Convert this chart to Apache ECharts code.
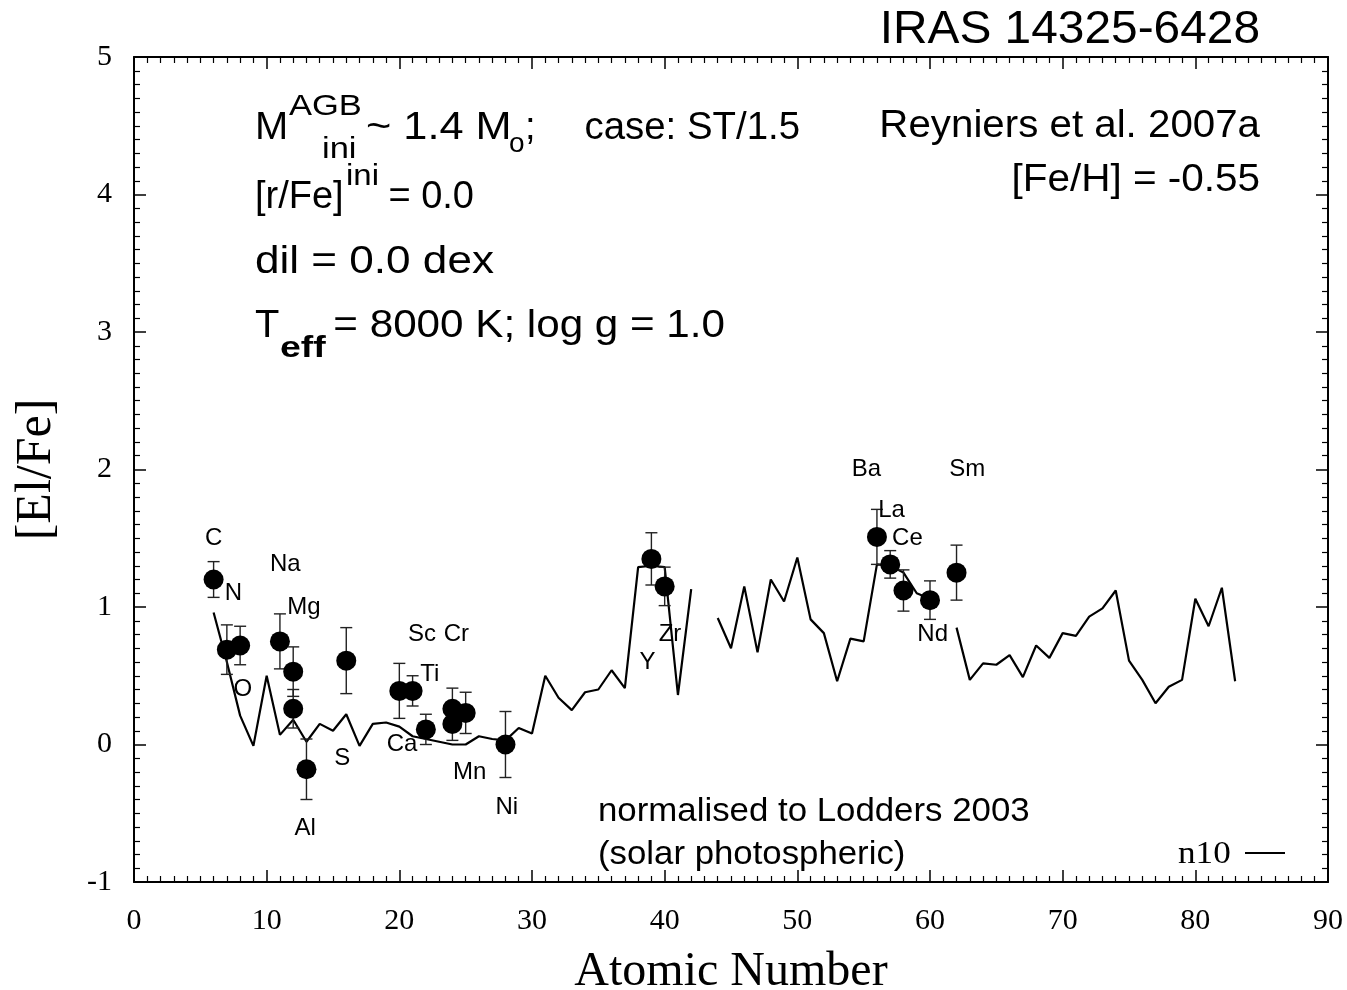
<!DOCTYPE html>
<html>
<head>
<meta charset="utf-8">
<title>IRAS 14325-6428 — [El/Fe]</title>
<script src="https://cdn.jsdelivr.net/npm/echarts@6/dist/echarts.min.js"></script>
<style>
  html, body { margin: 0; padding: 0; background: #fff; }
  #chart { width: 1347px; height: 990px; }
</style>
</head>
<body>
<div id="chart"></div>
<script>
// Model n10: atomic number and predicted [El/Fe]; null = no stable isotope (Tc, Pm)
var modelZ = [6,7,8,9,10,11,12,13,14,15,16,17,18,19,20,21,22,23,24,25,26,27,28,29,30,
  31,32,33,34,35,36,37,38,39,40,41,42,43,44,45,46,47,48,49,50,51,52,53,54,55,56,57,58,59,60,
  61,62,63,64,65,66,67,68,69,70,71,72,73,74,75,76,77,78,79,80,81,82,83];
var modelVal = [0.96,0.60,0.21,-0.01,0.50,0.07,0.18,0.02,0.15,0.10,0.22,-0.01,0.15,0.16,0.13,
  0.06,0.04,0.02,0.00,0.00,0.06,0.04,0.03,0.12,0.08,
  0.50,0.34,0.25,0.38,0.40,0.54,0.41,1.29,1.30,1.29,0.36,1.13,null,0.92,0.70,1.15,0.67,1.20,1.04,1.36,
  0.91,0.81,0.46,0.77,0.75,1.31,1.30,1.25,1.10,1.06,
  null,0.85,0.47,0.59,0.58,0.65,0.49,0.72,0.63,0.81,0.79,0.93,0.99,1.12,0.61,0.47,0.30,0.42,0.47,1.06,0.86,1.14,0.46];

// Observed abundances (Reyniers et al. 2007a) with 1-sigma errors
var obsZ   = [6,7,8,11,12,12,13,16,20,21,22,24,24,25,28,39,40,56,57,58,60,62];
var obsVal = [1.20,0.69,0.72,0.75,0.53,0.26,-0.18,0.61,0.39,0.39,0.11,0.26,0.15,0.23,0.00,1.35,1.15,1.51,1.31,1.12,1.05,1.25];
var obsErr = [0.13,0.18,0.14,0.20,0.18,0.14,0.22,0.24,0.20,0.11,0.11,0.15,0.12,0.15,0.24,0.19,0.14,0.20,0.10,0.15,0.14,0.20];

// Element symbols and where each name sits (atomic number, [El/Fe])
var elemNames = ['C','N','O','Na','Mg','Al','S','Ca','Sc','Ti','Cr','Mn','Ni','Y','Zr','Ba','La','Ce','Nd','Sm'];
var elemAtX   = [6.0,7.5,8.2,11.4,12.8,12.9,15.7,20.2,21.7,22.3,24.3,25.3,28.1,38.7,40.4,55.2,57.1,58.3,60.2,62.8];
var elemAtY   = [1.50,1.10,0.40,1.31,1.00,-0.61,-0.10,0.00,0.80,0.51,0.80,-0.20,-0.46,0.60,0.80,2.00,1.70,1.50,0.80,2.00];

// Axis tick labels
var xTicks = ['0','10','20','30','40','50','60','70','80','90'];
var yTicks = ['-1','0','1','2','3','4','5'];

var SANS = '"Liberation Sans", Arial, sans-serif';
var SERIF = '"Liberation Serif", "Times New Roman", serif';

var lineData = modelZ.map(function (z, i) { return [z, modelVal[i]]; });
var pointData = obsZ.map(function (z, i) { return [z, obsVal[i]]; });
var errData = obsZ.map(function (z, i) { return [z, obsVal[i] - obsErr[i], obsVal[i] + obsErr[i]]; });
var nameData = elemNames.map(function (n, i) { return { name: n, value: [elemAtX[i], elemAtY[i]] }; });

function frameAxisX(pos, showLabels) {
  return {
    type: 'value', position: pos, min: 0, max: 90, interval: 10,
    axisLine: { show: true, onZero: false, lineStyle: { color: '#000', width: 2 } },
    axisTick: { show: true, inside: true, length: 12, lineStyle: { color: '#000', width: 1.5 } },
    minorTick: { show: true, splitNumber: 10, length: 6, lineStyle: { color: '#000', width: 1.2 } },
    splitLine: { show: false },
    axisLabel: showLabels ? {
      show: true, margin: 24, color: '#000', fontFamily: SERIF, fontSize: 30,
      formatter: function (v) { return xTicks[Math.round(v / 10)]; }
    } : { show: false }
  };
}
function frameAxisY(pos, showLabels) {
  return {
    type: 'value', position: pos, min: -1, max: 5, interval: 1,
    axisLine: { show: true, onZero: false, lineStyle: { color: '#000', width: 2 } },
    axisTick: { show: true, inside: true, length: 12, lineStyle: { color: '#000', width: 1.5 } },
    minorTick: { show: true, splitNumber: 10, length: 6, lineStyle: { color: '#000', width: 1.2 } },
    splitLine: { show: false },
    axisLabel: showLabels ? {
      show: true, margin: 22, color: '#000', fontFamily: SERIF, fontSize: 30,
      formatter: function (v) { return yTicks[Math.round(v + 1)]; }
    } : { show: false }
  };
}

var xMain = frameAxisX('bottom', true);
xMain.name = 'Atomic Number';
xMain.nameLocation = 'middle';
xMain.nameGap = 66;
xMain.nameTextStyle = { fontFamily: SERIF, fontSize: 48, color: '#000' };
var yMain = frameAxisY('left', true);
yMain.name = '[El/Fe]';
yMain.nameLocation = 'middle';
yMain.nameGap = 72;
yMain.nameTextStyle = { fontFamily: SERIF, fontSize: 50, color: '#000' };

// free text placed in pixels; sx stretches glyphs horizontally around the anchor
function txt(x, y, s, size, opts) {
  opts = opts || {};
  return {
    type: 'text', x: x, y: y, z: 50, scaleX: opts.sx || 1,
    style: {
      text: s, fill: '#000', font: (opts.bold ? 'bold ' : '') + size + 'px ' + (opts.family || SANS),
      textAlign: opts.align || 'left', textVerticalAlign: 'middle'
    }
  };
}

var chart = echarts.init(document.getElementById('chart'), null, { renderer: 'canvas' });
chart.setOption({
  backgroundColor: '#fff',
  animation: false,
  grid: { left: 134, top: 57, width: 1194, height: 825, containLabel: false, outerBoundsMode: 'none' },
  xAxis: [xMain, frameAxisX('top', false)],
  yAxis: [yMain, frameAxisY('right', false)],
  series: [
    {
      name: 'n10', type: 'line', xAxisIndex: 0, yAxisIndex: 0,
      data: lineData, connectNulls: false, showSymbol: false, symbol: 'none',
      lineStyle: { color: '#000', width: 2.2 }, z: 2
    },
    {
      type: 'custom', xAxisIndex: 0, yAxisIndex: 0, data: errData, z: 3,
      renderItem: function (params, api) {
        var x = api.value(0);
        var lo = api.coord([x, api.value(1)]);
        var hi = api.coord([x, api.value(2)]);
        var w = 6;
        var st = { stroke: '#222', lineWidth: 1.4 };
        return {
          type: 'group',
          children: [
            { type: 'line', shape: { x1: lo[0], y1: lo[1], x2: hi[0], y2: hi[1] }, style: st },
            { type: 'line', shape: { x1: lo[0] - w, y1: lo[1], x2: lo[0] + w, y2: lo[1] }, style: st },
            { type: 'line', shape: { x1: hi[0] - w, y1: hi[1], x2: hi[0] + w, y2: hi[1] }, style: st }
          ]
        };
      }
    },
    {
      type: 'scatter', xAxisIndex: 0, yAxisIndex: 0, data: pointData,
      symbol: 'circle', symbolSize: 20, itemStyle: { color: '#000', opacity: 1 }, z: 4
    },
    {
      type: 'scatter', xAxisIndex: 0, yAxisIndex: 0, data: nameData,
      symbolSize: 0, z: 5, silent: true, itemStyle: { opacity: 1 },
      label: {
        show: true, position: 'inside', formatter: '{b}',
        color: '#000', fontFamily: SANS, fontSize: 24
      }
    }
  ],
  graphic: [
    txt(1260, 30, 'IRAS 14325-6428', 46, { align: 'right', sx: 1.04 }),
    // model parameters block
    txt(255, 129, 'M', 38, { sx: 1.05 }),
    txt(289, 107, 'AGB', 30, { sx: 1.15 }),
    txt(322, 150, 'ini', 30, { sx: 1.15 }),
    txt(366, 129, '~ 1.4 M', 38, { sx: 1.14 }),
    txt(509, 144, 'o', 28),
    txt(525, 129, ';', 38),
    txt(800, 129, 'case: ST/1.5', 38, { align: 'right', sx: 1.01 }),
    txt(255, 198, '[r/Fe]', 38),
    txt(346, 177, 'ini', 30, { sx: 1.1 }),
    txt(474, 198, '= 0.0', 38, { align: 'right' }),
    txt(255, 263, 'dil = 0.0 dex', 38, { sx: 1.16 }),
    txt(255, 327, 'T', 38, { sx: 1.05 }),
    txt(280, 349, 'eff', 30, { bold: true, sx: 1.25 }),
    txt(725, 327, '= 8000 K; log g = 1.0', 38, { align: 'right', sx: 1.11 }),
    // reference for the observations
    txt(1260, 127, 'Reyniers et al. 2007a', 38, { align: 'right', sx: 1.06 }),
    txt(1260, 181, '[Fe/H] = -0.55', 38, { align: 'right', sx: 1.065 }),
    txt(598, 812, 'normalised to Lodders 2003', 34, { sx: 1.024 }),
    txt(598, 855, '(solar photospheric)', 34, { sx: 1.023 }),
    // legend for the model curve
    txt(1178, 855, 'n10', 32, { family: SERIF, sx: 1.1 }),
    { type: 'line', z: 50, shape: { x1: 1245, y1: 853, x2: 1285, y2: 853 }, style: { stroke: '#000', lineWidth: 2 } }
  ]
});
</script>
</body>
</html>
